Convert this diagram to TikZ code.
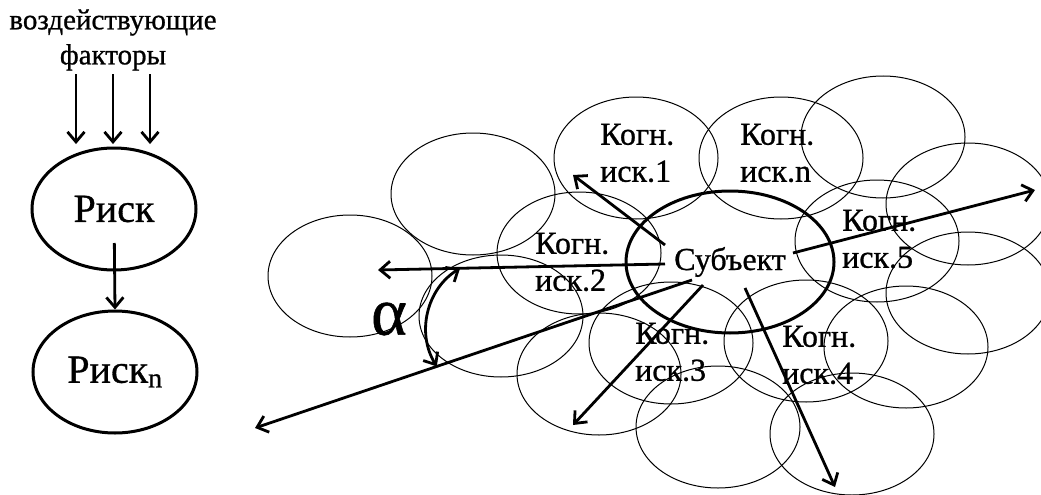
\documentclass[tikz,border=0pt]{standalone}
\usepackage{fontspec}
\setmainfont{Liberation Serif}[FakeBold=0.8]
\usetikzlibrary{shapes.geometric,arrows.meta,calc}

\begin{document}
\begin{tikzpicture}[x=1pt, y=-1pt,
    arr/.style = {line width=2.8pt, -{Straight Barb[length=10pt,width=17pt]}},
    dblarr/.style = {line width=2.8pt, {Straight Barb[length=10pt,width=17pt]}-{Straight Barb[length=10pt,width=17pt]}},
    area/.style = {line width=1pt},
    risknode/.style = {shape=ellipse, draw, line width=3pt,
      minimum width=164pt, minimum height=122pt, inner sep=0pt,
      font=\fontsize{40}{42}\selectfont},
    lbl/.style = {anchor=west, align=left, inner sep=0pt,
      font=\fontsize{32}{37}\selectfont}]
  \useasboundingbox (0,0) rectangle (1041,495);

  % left column
  \node[align=center, font=\fontsize{29}{35}\selectfont] (factors) at (113,40) {воздействующие\\факторы};
  \node[risknode] (risk) at (114,209) {Риск};
  \node[risknode] (riskn) at (115,372) {Риск\textsubscript{n}};
  \foreach \dx in {-37,0,37}
    \draw[arr] ([xshift=\dx pt]factors.south) -- ++(0,70);
  \draw[arr, shorten <=34pt] (risk.center) -- (riskn.north);

  % cognitive areas
  \foreach \cx/\cy in {350/276, 473/194, 579/253, 501/316, 599/374,
      636/158, 781/158, 883/137, 968/204, 877/241, 968/293,
      906/347, 806/341, 671/343, 718/427, 852/434}
    \draw[area] (\cx,\cy) ellipse (82 and 61);

  \node[lbl] (k1) at (600,153) {Когн.\\иск.1};
  \node[lbl] (kn) at (740,153) {Когн.\\иск.n};
  \node[lbl] (k2) at (535,262) {Когн.\\иск.2};
  \node[lbl] (k5) at (842,239) {Когн.\\иск.5};
  \node[lbl] (k3) at (635,352) {Когн.\\иск.3};
  \node[lbl] (k4) at (782,355) {Когн.\\иск.4};

  \node[shape=ellipse, draw, line width=3pt, minimum width=208pt, minimum height=142pt,
    font=\fontsize{32}{36}\selectfont] (subj) at (730,262) {Субъект};

  \coordinate (s1) at (665,245); \coordinate (t1) at (573,175);
  \coordinate (s2) at (665,264); \coordinate (t2) at (378,270);
  \coordinate (s3) at (692,280); \coordinate (t3) at (255,428);
  \coordinate (s4) at (703,285); \coordinate (t4) at (573,425);
  \coordinate (s5) at (745,288); \coordinate (t5) at (835,487);
  \coordinate (s6) at (793,253); \coordinate (t6) at (1035,190);
  \foreach \i in {1,...,6}
    \draw[arr] (s\i) -- (t\i);

  \coordinate (a1) at ($(s2)!0.714!(t2)$);
  \coordinate (a2) at ($(s3)!0.584!(t3)$);
  \draw[dblarr] (a1) to[bend right=45] (a2);
  \node[font=\fontsize{68}{70}\selectfont] (alpha) at (389,319) {α};
\end{tikzpicture}
\end{document}
